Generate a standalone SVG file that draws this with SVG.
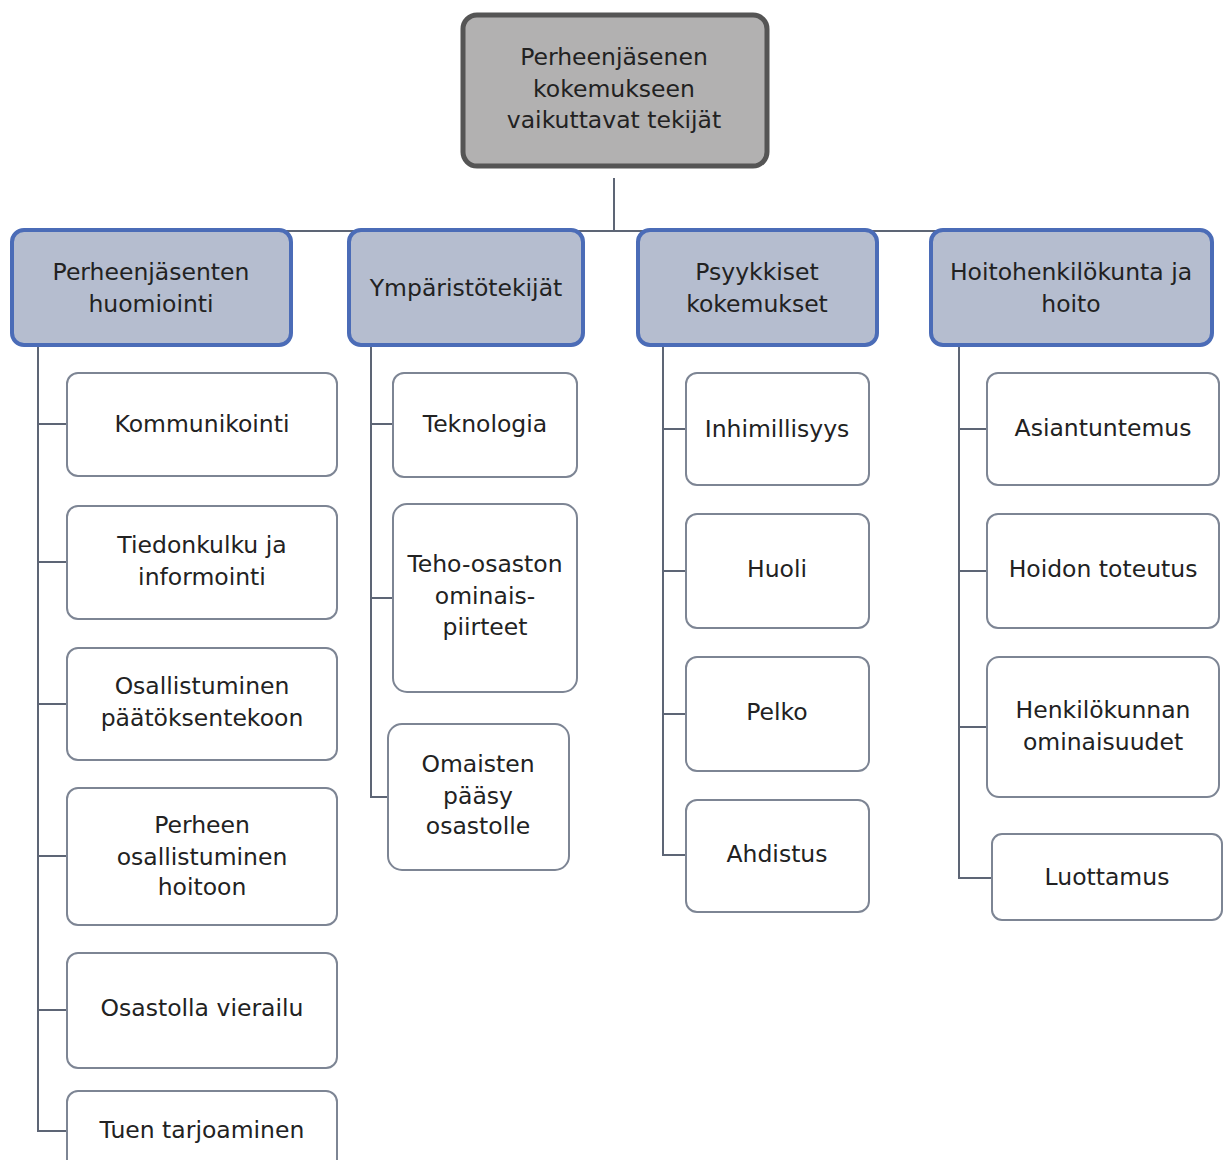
<svg xmlns="http://www.w3.org/2000/svg" width="1223" height="1160" viewBox="0 0 1223 1160">
<style>
text{font-family:"DejaVu Sans","Liberation Sans",sans-serif;font-size:23.5px;fill:#222222;text-anchor:middle}
.root{fill:#b2b1b1;stroke:#555555;stroke-width:5}
.cat{fill:#b5bdcf;stroke:#4b6cb7;stroke-width:4}
.leaf{fill:#ffffff;stroke:#7d8594;stroke-width:2}
.con{fill:none;stroke:#5d6575;stroke-width:2}
</style>
<rect width="1223" height="1160" fill="#ffffff"/>
<g id="connectors">
<path class="con" d="M614,178 V231 M150,231 H1071"/>
<path class="con" d="M38,346 V1131 H67 M38,424 H67 M38,562 H67 M38,704 H67 M38,856 H67 M38,1010 H67"/>
<path class="con" d="M371,346 V797 H388 M371,424 H393 M371,598 H393"/>
<path class="con" d="M663,346 V855 H686 M663,429 H686 M663,571 H686 M663,714 H686"/>
<path class="con" d="M959,346 V878 H992 M959,429 H987 M959,571 H987 M959,727 H987"/>
</g>
<g id="root"><rect class="root" x="463" y="15" width="304" height="151" rx="14"/>
<text x="614" y="65">Perheenjäsenen</text><text x="614" y="97">kokemukseen</text><text x="614" y="128">vaikuttavat tekijät</text></g>
<g id="cat1"><rect class="cat" x="12" y="230" width="279" height="115" rx="12"/>
<text x="151" y="280">Perheenjäsenten</text><text x="151" y="312">huomiointi</text></g>
<g id="cat2"><rect class="cat" x="349" y="230" width="234" height="115" rx="12"/>
<text x="466" y="296">Ympäristötekijät</text></g>
<g id="cat3"><rect class="cat" x="638" y="230" width="239" height="115" rx="12"/>
<text x="757" y="280">Psyykkiset</text><text x="757" y="312">kokemukset</text></g>
<g id="cat4"><rect class="cat" x="931" y="230" width="281" height="115" rx="12"/>
<text x="1071" y="280">Hoitohenkilökunta ja</text><text x="1071" y="312">hoito</text></g>
<g id="n-kommunikointi"><rect class="leaf" x="67" y="373" width="270" height="103" rx="11"/><text x="202" y="432">Kommunikointi</text></g>
<g id="n-tiedonkulku"><rect class="leaf" x="67" y="506" width="270" height="113" rx="11"/><text x="202" y="553">Tiedonkulku ja</text><text x="202" y="585">informointi</text></g>
<g id="n-osallistuminen"><rect class="leaf" x="67" y="648" width="270" height="112" rx="11"/><text x="202" y="694">Osallistuminen</text><text x="202" y="726">päätöksentekoon</text></g>
<g id="n-perheen"><rect class="leaf" x="67" y="788" width="270" height="137" rx="11"/><text x="202" y="833">Perheen</text><text x="202" y="865">osallistuminen</text><text x="202" y="895">hoitoon</text></g>
<g id="n-osastolla"><rect class="leaf" x="67" y="953" width="270" height="115" rx="11"/><text x="202" y="1016">Osastolla vierailu</text></g>
<g id="n-tuen"><rect class="leaf" x="67" y="1091" width="270" height="80" rx="11"/><text x="202" y="1138">Tuen tarjoaminen</text></g>
<g id="n-teknologia"><rect class="leaf" x="393" y="373" width="184" height="104" rx="11"/><text x="485" y="432">Teknologia</text></g>
<g id="n-teho"><rect class="leaf" x="393" y="504" width="184" height="188" rx="14"/><text x="485" y="572">Teho-osaston</text><text x="485" y="604">ominais-</text><text x="485" y="635">piirteet</text></g>
<g id="n-omaisten"><rect class="leaf" x="388" y="724" width="181" height="146" rx="14"/><text x="478" y="772">Omaisten</text><text x="478" y="804">pääsy</text><text x="478" y="834">osastolle</text></g>
<g id="n-inhimillisyys"><rect class="leaf" x="686" y="373" width="183" height="112" rx="11"/><text x="777" y="437">Inhimillisyys</text></g>
<g id="n-huoli"><rect class="leaf" x="686" y="514" width="183" height="114" rx="11"/><text x="777" y="577">Huoli</text></g>
<g id="n-pelko"><rect class="leaf" x="686" y="657" width="183" height="114" rx="11"/><text x="777" y="720">Pelko</text></g>
<g id="n-ahdistus"><rect class="leaf" x="686" y="800" width="183" height="112" rx="11"/><text x="777" y="862">Ahdistus</text></g>
<g id="n-asiantuntemus"><rect class="leaf" x="987" y="373" width="232" height="112" rx="11"/><text x="1103" y="436">Asiantuntemus</text></g>
<g id="n-hoidon"><rect class="leaf" x="987" y="514" width="232" height="114" rx="11"/><text x="1103" y="577">Hoidon toteutus</text></g>
<g id="n-henkilokunnan"><rect class="leaf" x="987" y="657" width="232" height="140" rx="12"/><text x="1103" y="718">Henkilökunnan</text><text x="1103" y="750">ominaisuudet</text></g>
<g id="n-luottamus"><rect class="leaf" x="992" y="834" width="230" height="86" rx="10"/><text x="1107" y="885">Luottamus</text></g>
</svg>
